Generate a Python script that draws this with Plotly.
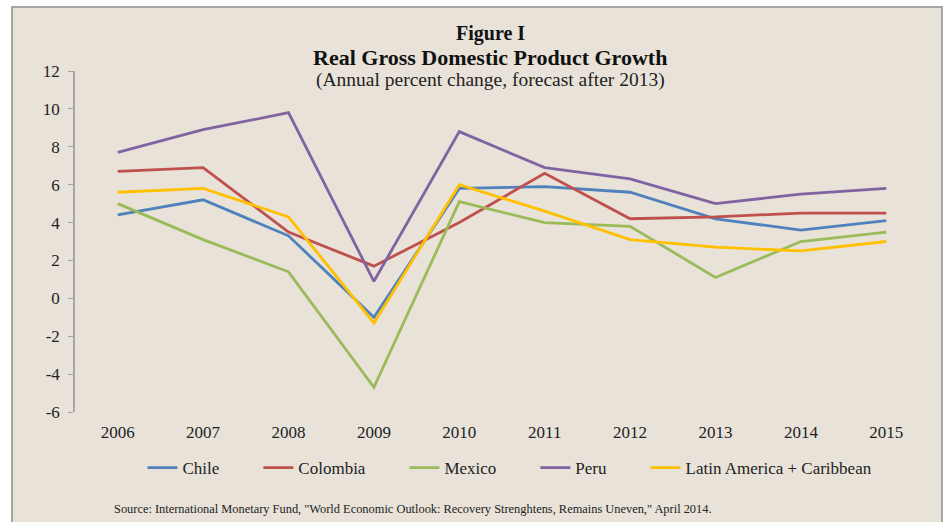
import plotly.graph_objects as go

years = ["2006", "2007", "2008", "2009", "2010", "2011", "2012", "2013", "2014", "2015"]
chile = [4.4, 5.2, 3.3, -1.0, 5.8, 5.9, 5.6, 4.2, 3.6, 4.1]
colombia = [6.7, 6.9, 3.5, 1.7, 4.0, 6.6, 4.2, 4.3, 4.5, 4.5]
mexico = [5.0, 3.1, 1.4, -4.7, 5.1, 4.0, 3.8, 1.1, 3.0, 3.5]
peru = [7.7, 8.9, 9.8, 0.9, 8.8, 6.9, 6.3, 5.0, 5.5, 5.8]
lac = [5.6, 5.8, 4.3, -1.3, 6.0, 4.6, 3.1, 2.7, 2.5, 3.0]
y_ticks = [-6, -4, -2, 0, 2, 4, 6, 8, 10, 12]
y_tick_labels = ["-6", "-4", "-2", "0", "2", "4", "6", "8", "10", "12"]

series = [
    ("Chile", chile, "#4F81BD"),
    ("Colombia", colombia, "#C0504D"),
    ("Mexico", mexico, "#9BBB59"),
    ("Peru", peru, "#8064A2"),
    ("Latin America + Caribbean", lac, "#FFC000"),
]

FONT = "Liberation Serif"
GAP = "\u00a0" * 8
fig = go.Figure()
for i, (name, vals, col) in enumerate(series):
    label = name + (GAP if i < len(series) - 1 else "")
    fig.add_trace(go.Scatter(x=years, y=vals, name=label, mode="lines",
                             line=dict(color=col, width=2.8)))

L, R, T, B = 75, 15, 71, 110
W, H = 944, 522
pw, ph = W - L - R, H - T - B

def px2paper_x(x):
    return (x - L) / pw

def px2paper_y(y):
    return (H - B - y) / ph

fig.add_shape(type="rect", xref="paper", yref="paper",
              x0=px2paper_x(12), x1=px2paper_x(942),
              y0=px2paper_y(530), y1=px2paper_y(7),
              fillcolor="#E8E2D9", line=dict(color="#A6A6A6", width=2),
              layer="below")

def ann(text, x, y, size, color="#111", xanchor="center"):
    fig.add_annotation(text=text, xref="paper", yref="paper",
                       x=px2paper_x(x), y=px2paper_y(y), xanchor=xanchor, yanchor="middle",
                       showarrow=False, font=dict(family=FONT, size=size, color=color))

ann("<b>Figure I</b>", 490, 33, 20)
ann("<b>Real Gross Domestic Product Growth</b>", 490, 57, 22)
ann("(Annual percent change, forecast after 2013)", 490, 80, 19.5, "#222")
ann('Source: International Monetary Fund, "World Economic Outlook: Recovery Strenghtens, Remains Uneven," April 2014.',
    112, 509, 12.4, "#222", "left")

fig.update_layout(
    width=W, height=H,
    margin=dict(l=L, r=R, t=T, b=B),
    paper_bgcolor="white",
    plot_bgcolor="rgba(0,0,0,0)",
    font=dict(family=FONT, size=16, color="#222"),
    showlegend=True,
    legend=dict(orientation="h", x=px2paper_x(510), xanchor="center",
                y=px2paper_y(468), yanchor="middle",
                font=dict(family=FONT, size=17, color="#222"),
                bgcolor="rgba(0,0,0,0)", itemwidth=30, tracegroupgap=0),
    xaxis=dict(type="category", range=[-0.5, 9.5], showgrid=False, showline=False,
               ticks="", tickfont=dict(family=FONT, size=17), zeroline=False,
               ticklabelstandoff=8),
    yaxis=dict(range=[-6, 12], tickmode="array", tickvals=y_ticks, ticktext=y_tick_labels,
               showgrid=False, zeroline=False,
               showline=True, linecolor="#A6A6A6", linewidth=1.5,
               ticks="outside", ticklen=5, tickcolor="#A6A6A6",
               tickfont=dict(family=FONT, size=17), ticklabelstandoff=5),
)

fig.write_html("out.html", config={"displayModeBar": False},
               post_script="document.body.style.margin='0px';")
